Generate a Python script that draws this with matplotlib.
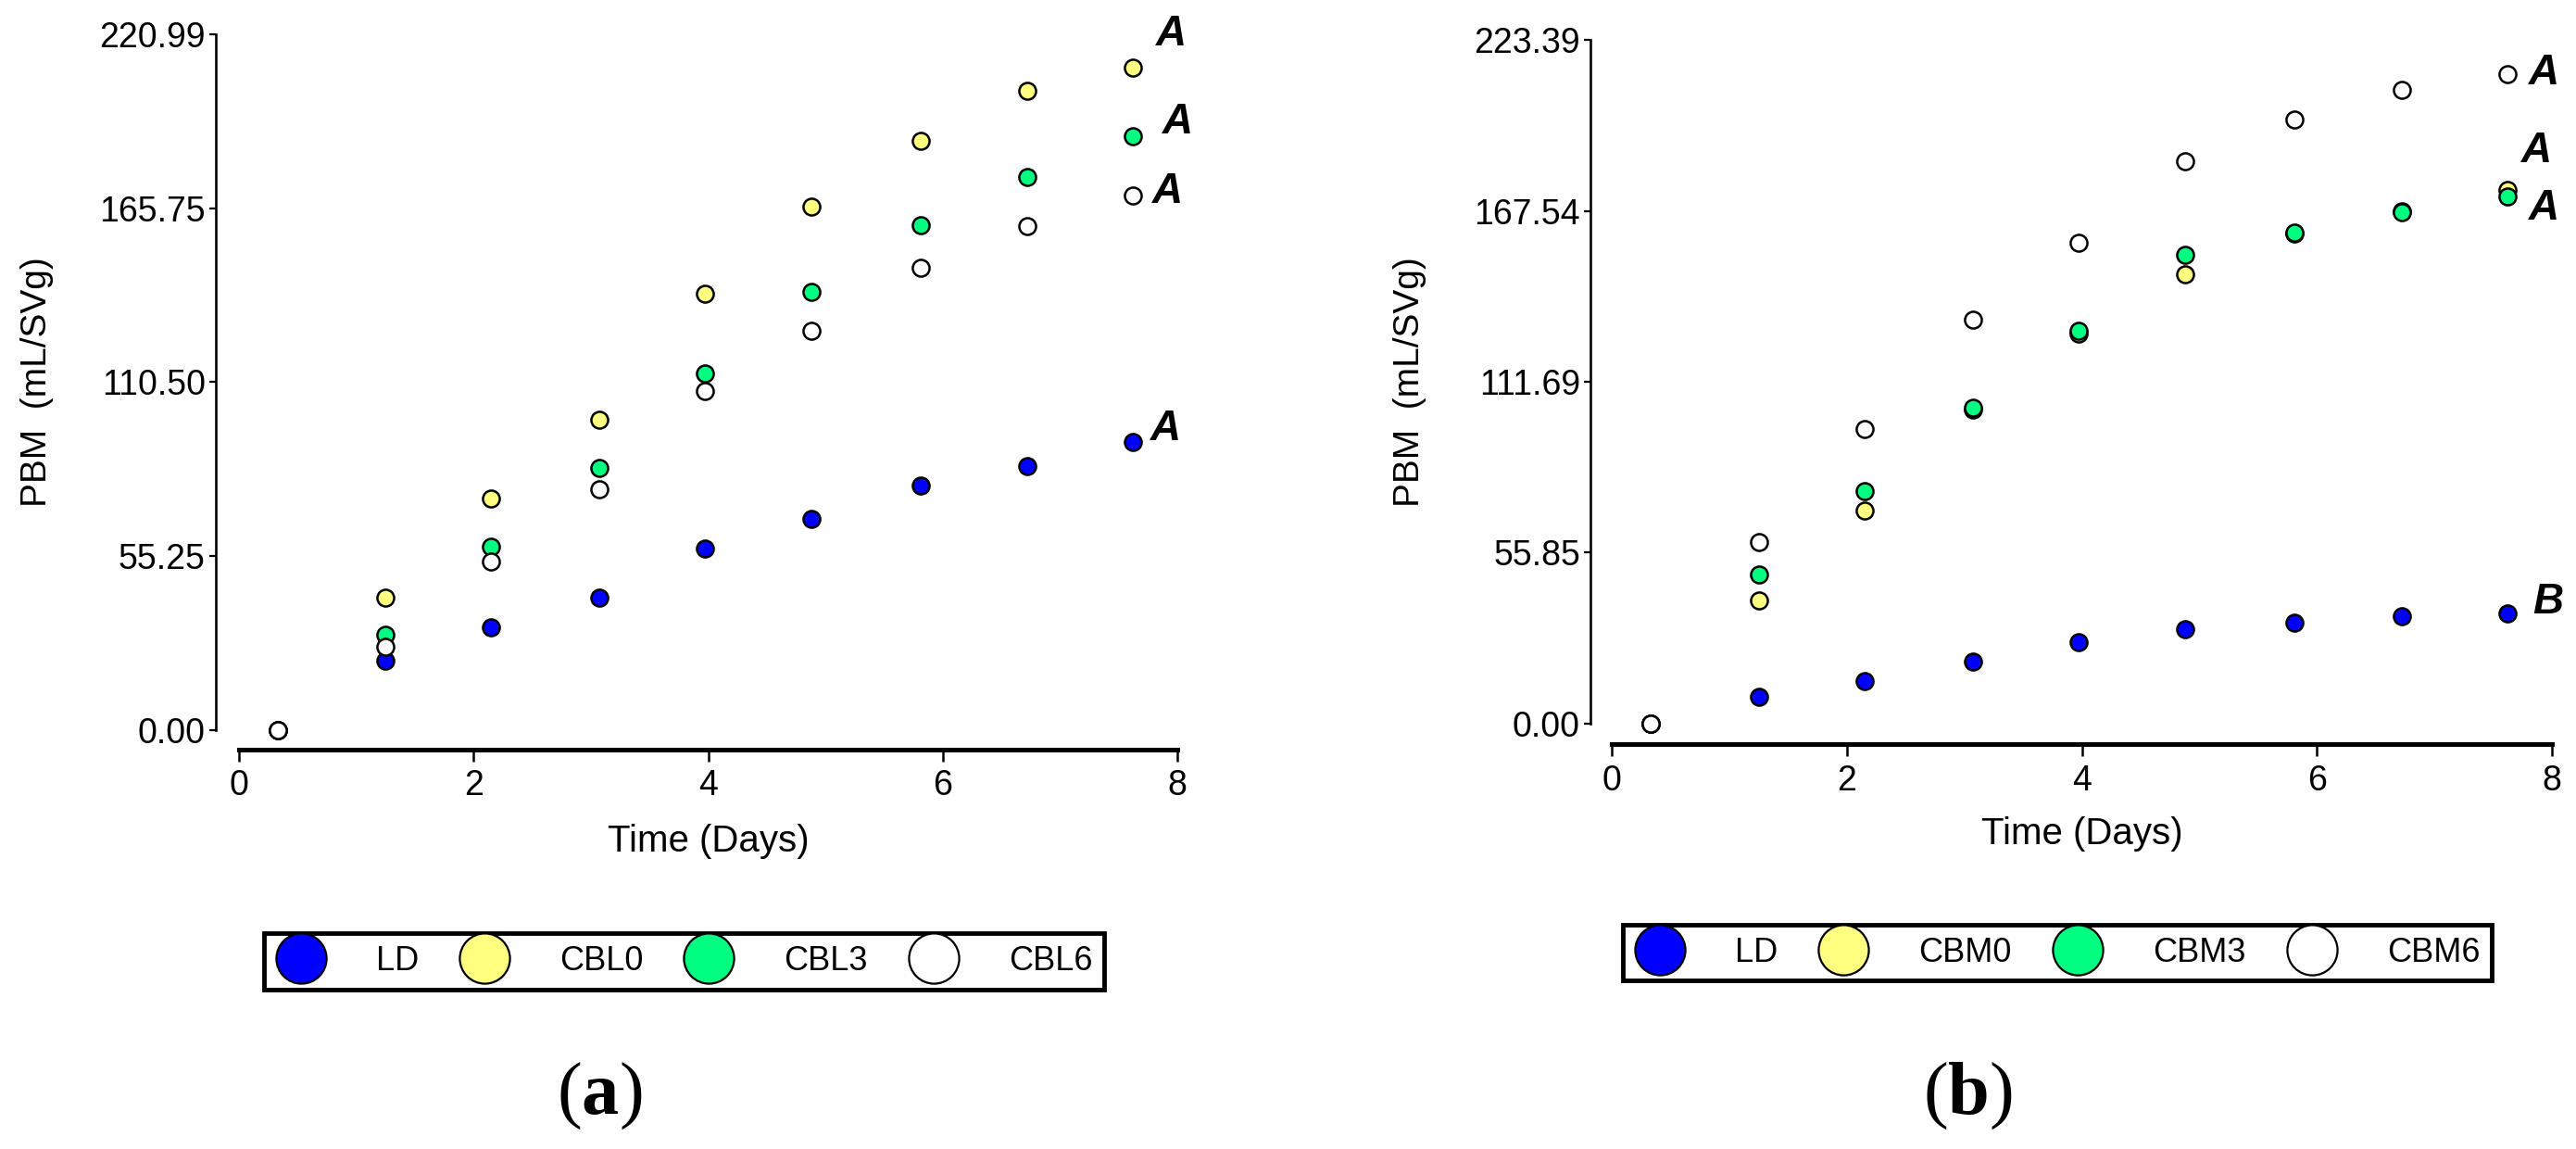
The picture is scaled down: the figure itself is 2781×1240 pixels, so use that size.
import matplotlib
matplotlib.use("Agg")
import matplotlib.pyplot as plt
from matplotlib.lines import Line2D

plt.rcParams["font.family"] = ["Liberation Sans", "DejaVu Sans"]
plt.rcParams["mathtext.fontset"] = "custom"
plt.rcParams["mathtext.rm"] = "Liberation Serif"
plt.rcParams["mathtext.bf"] = "Liberation Serif:bold"

# tempo de amostragem (dias)
days = [0.33, 1.25, 2.15, 3.07, 3.97, 4.88, 5.81, 6.72, 7.62]

# painel (a)
ld_a = [0, 22.1, 32.7, 42.2, 57.8, 67.2, 77.7, 83.9, 91.5]
cbl0 = [0, 42.2, 73.7, 98.5, 138.5, 166.4, 187.2, 203.0, 210.3]
cbl3 = [0, 30.3, 58.2, 83.2, 113.2, 139.3, 160.3, 175.8, 188.5]
cbl6 = [0, 26.6, 53.6, 76.6, 107.7, 126.8, 146.7, 160.1, 169.7]
names_a = ["LD", "CBL0", "CBL3", "CBL6"]
yticks_a = [0.00, 55.25, 110.50, 165.75, 220.99]
letters_a = ["A", "A", "A", "A"]
letters_a_x = [7.95, 8.0, 7.92, 7.9]
letters_a_y = [221.0, 193.0, 171.0, 95.5]

# painel (b)
ld_b = [0, 8.7, 13.9, 20.3, 26.5, 30.8, 32.9, 35.1, 35.9]
cbm0 = [0, 40.2, 69.7, 102.5, 127.5, 146.8, 160.0, 167.5, 174.4]
cbm3 = [0, 48.7, 76.0, 103.2, 128.4, 153.2, 160.5, 167.0, 172.3]
cbm6 = [0, 59.3, 96.2, 132.0, 157.2, 183.7, 197.3, 207.0, 212.2]
names_b = ["LD", "CBM0", "CBM3", "CBM6"]
yticks_b = [0.00, 55.85, 111.69, 167.54, 223.39]
letters_b = ["A", "A", "A", "B"]
letters_b_x = [7.93, 7.87, 7.93, 7.97]
letters_b_y = [212.5, 187.1, 168.3, 39.7]

cores = ["#0000FF", "#FFFF80", "#00FF80", "#FFFFFF"]

W, H = 2781, 1240
fig = plt.figure(figsize=(W / 100, H / 100), dpi=100)


def desenhar(ax, series, nomes, yticks, letras, lx, ly, y_out, x_out):
    for valores, cor in zip(series, cores):
        ax.scatter(days, valores, s=170, c=cor, edgecolors="black",
                   linewidths=1.8, zorder=3, clip_on=False)
    for letra, x, y in zip(letras, lx, ly):
        ax.text(x, y, letra, ha="center", va="center", fontsize=33,
                fontweight="bold", fontstyle="italic")

    ax.set_xlim(0, 8)
    ax.set_ylim(yticks[0], yticks[-1])
    ax.set_xticks([0, 2, 4, 6, 8])
    ax.set_yticks(yticks)
    ax.set_yticklabels([f"{v:.2f}" for v in yticks])

    for lado in ["top", "right"]:
        ax.spines[lado].set_visible(False)
    ax.spines["left"].set_position(("outward", y_out))
    ax.spines["bottom"].set_position(("outward", x_out))
    ax.spines["left"].set_linewidth(1.9)
    ax.spines["bottom"].set_linewidth(3.6)
    ax.tick_params(axis="y", length=5, width=1.6, pad=3, labelsize=27)
    ax.tick_params(axis="x", length=9.5, width=1.8, pad=6, labelsize=27)

    ax.set_xlabel("Time (Days)", fontsize=29)
    ax.set_ylabel("PBM  (mL/SVg)", fontsize=28)
    ax.xaxis.set_label_coords(0.5, -0.135)
    ax.yaxis.set_label_coords(-0.197, 0.5)


def legenda(nomes, caixa):
    handles = [Line2D([], [], ls="none", marker="o", markersize=39,
                      markerfacecolor=c, markeredgecolor="black",
                      markeredgewidth=1.6) for c in cores]
    leg = fig.legend(handles, nomes, loc="center", bbox_to_anchor=caixa,
                     mode="expand", ncol=4, fontsize=26, frameon=True,
                     framealpha=1, fancybox=False, edgecolor="black",
                     handlelength=1.5, handletextpad=1.5, borderpad=0.35,
                     borderaxespad=0, columnspacing=1.0)
    leg.get_frame().set_linewidth(3.5)
    return leg


ax_a = fig.add_axes([258 / W, 1 - 788 / H, 1013 / W, 751 / H])
desenhar(ax_a, [ld_a, cbl0, cbl3, cbl6], names_a, yticks_a,
         letters_a, letters_a_x, letters_a_y, 18, 15)

ax_b = fig.add_axes([1740 / W, 1 - 781 / H, 1015 / W, 738 / H])
desenhar(ax_b, [ld_b, cbm0, cbm3, cbm6], names_b, yticks_b,
         letters_b, letters_b_x, letters_b_y, 16.5, 16)

legenda(names_a, (285 / W, 1 - 1082 / H, 907 / W, 89 / H))
legenda(names_b, (1752 / W, 1 - 1071 / H, 938 / W, 86 / H))

fig.text(647 / W, 1 - 1183 / H, r"($\mathbf{a}$)", ha="center", va="center",
         fontsize=58, family="Liberation Serif")
fig.text(2124 / W, 1 - 1183 / H, r"($\mathbf{b}$)", ha="center", va="center",
         fontsize=58, family="Liberation Serif")

fig.savefig("out.png", dpi=100)
